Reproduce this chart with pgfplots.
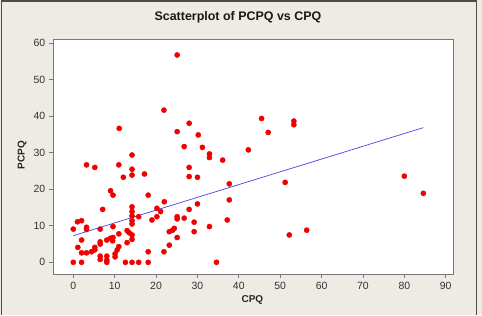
\documentclass[border=0pt]{standalone}
\usepackage{pgfplots}
\pgfplotsset{compat=1.18}
\usepackage{pgfplotstable}
\usepackage{fontspec}
\setmainfont{Liberation Sans}
\setsansfont{Liberation Sans}

\definecolor{panel}{RGB}{238,235,228}
\definecolor{framegray}{RGB}{120,120,120}
\definecolor{ticktext}{RGB}{50,50,50}
\definecolor{fitblue}{RGB}{70,70,230}
\definecolor{dotred}{RGB}{240,0,0}

% CPQ / PCPQ observations
\pgfplotstableread{
cpq pcpq
0 0
2 0
12.6 0
14.2 0
15.8 0
18.1 0
34.6 0
8.1 0
6.5 0.8
8.1 0.6
6.5 1.7
8.1 1.7
10.1 1.5
10.1 2.3
2.0 2.6
3.2 2.6
4.4 2.9
5.2 3.4
10.6 3.4
18.1 2.9
21.9 2.9
1.1 4.1
5.2 4.1
11.0 4.3
23.2 4.7
6.5 5.0
6.5 5.6
13.0 5.4
9.5 5.9
2.0 6.1
8.1 6.1
9.0 6.6
9.6 6.8
14.2 6.3
25.1 6.8
14.2 7.5
11.0 7.8
13.5 8.1
13.0 8.7
23.2 8.4
24.0 8.8
24.4 9.3
29.2 8.4
0 9.1
3.2 9.0
3.2 9.6
6.5 9.1
9.6 9.8
32.9 9.8
14.2 10.5
1.0 11.1
2.0 11.4
14.2 11.4
19.0 11.6
25.1 11.9
26.8 12.1
29.2 11.0
37.2 11.6
14.2 12.7
15.8 12.5
20.2 12.5
25.1 12.5
14.2 13.9
21.1 13.9
7.1 14.5
20.2 14.8
28.0 14.5
14.2 15.2
30.0 16.0
22.0 16.6
37.7 17.1
9.6 18.4
18.1 18.4
9.0 19.6
37.7 21.5
51.2 21.9
12.1 23.3
14.2 23.9
17.2 24.2
28.0 23.5
30.0 23.3
14.2 25.5
5.2 26.0
3.2 26.7
11.0 26.7
28.0 26.0
36.1 28.0
32.9 28.7
14.2 29.4
32.9 29.7
42.3 30.8
26.8 31.7
31.2 31.5
30.2 34.9
25.1 35.8
47.1 35.6
11.1 36.7
28.0 38.1
53.3 37.7
53.3 38.7
45.5 39.4
21.9 41.7
25.1 56.8
52.2 7.5
56.4 8.8
80.0 23.6
84.6 18.9
}\obsdata

\begin{document}
\begin{tikzpicture}[x=1bp,y=1bp]
% graph window
\fill[panel] (0,0) rectangle (482,315);
\draw[line width=1.6bp, black!70] (1.5,0) -- (1.5,314.2) -- (476.5,314.2) -- (476.5,0);
\begin{axis}[
  at={(53.3bp,41bp)}, anchor=south west,
  scale only axis, width=399.7bp, height=234.7bp,
  xmin=-4.83, xmax=91.76, ymin=-3.2, ymax=61.1,
  axis background/.style={fill=white},
  axis line style={framegray, line width=0.9bp},
  xtick={0,10,...,90}, ytick={0,10,...,60},
  tick align=outside, tick pos=left, major tick length=4bp,
  tick style={framegray, line width=0.9bp},
  ticklabel style={font=\fontsize{10.5}{12}\selectfont, text=ticktext},
  /pgf/number format/assume math mode=true,
  xticklabel style={yshift=-0.5bp},
  yticklabel style={xshift=-0.5bp},
  title={Scatterplot of PCPQ vs CPQ},
  title style={font=\bfseries\fontsize{12.5}{14}\selectfont, text=black!90,
    at={(axis description cs:0.462,1.069)}, anchor=center},
  xlabel={CPQ}, ylabel={PCPQ},
  label style={font=\bfseries\fontsize{10}{12}\selectfont, text=black!85},
  xlabel style={at={(axis description cs:0.498,-0.111)}, anchor=center},
  ylabel style={at={(axis description cs:-0.078,0.507)}, anchor=center},
  clip=false,
]
\addplot[only marks, mark=*, mark size=2.6bp, mark options={fill=dotred, draw=dotred}]
  table[x=cpq, y=pcpq] {\obsdata};
% fitted regression line
\addplot[fitblue, line width=0.7bp] coordinates {(0,7.3) (84.6,36.9)};
\end{axis}
\end{tikzpicture}
\end{document}
